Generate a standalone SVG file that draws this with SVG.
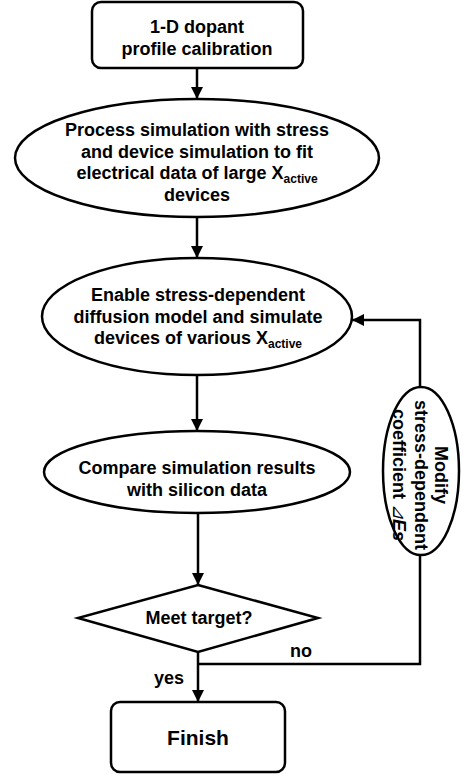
<svg xmlns="http://www.w3.org/2000/svg" width="472" height="777" viewBox="0 0 472 777">
<style>
.shape{fill:#fff;stroke:#000;stroke-width:2.5}
.t{font-family:"Liberation Sans",Arial,sans-serif;font-weight:bold;font-size:18px;fill:#000;text-anchor:middle}
.sub{font-size:12px}
.line{fill:none;stroke:#000;stroke-width:2.5}
.lbl{font-family:"Liberation Sans",Arial,sans-serif;font-weight:bold;font-size:18px;fill:#000}
</style>
<defs>
<marker id="arr" viewBox="0 0 12 12" refX="12" refY="6" markerWidth="12" markerHeight="12" markerUnits="userSpaceOnUse" orient="auto">
<path d="M0,0 L12,6 L0,12 Z" fill="#000"/>
</marker>
</defs>
<rect width="472" height="777" fill="#fff"/>
<g id="connectors">
<line class="line" x1="197" y1="68" x2="197" y2="99" marker-end="url(#arr)"/>
<line class="line" x1="197" y1="217" x2="197" y2="258" marker-end="url(#arr)"/>
<line class="line" x1="197" y1="375" x2="197" y2="431" marker-end="url(#arr)"/>
<line class="line" x1="198" y1="513" x2="198" y2="585" marker-end="url(#arr)"/>
<line class="line" x1="198" y1="652" x2="198" y2="702" marker-end="url(#arr)"/>
<polyline class="line" points="420,555 420,664 198,664"/>
<polyline class="line" points="420,387 420,320 352,320" marker-end="url(#arr)"/>
<text class="lbl" x="290" y="657">no</text>
<text class="lbl" x="154" y="684">yes</text>
</g>
<g id="calib">
<rect class="shape" x="92" y="2" width="211" height="66" rx="9"/>
<text class="t" x="197" y="33">1-D dopant</text>
<text class="t" x="197" y="54.5">profile calibration</text>
</g>
<g id="process">
<ellipse class="shape" cx="197" cy="158" rx="182" ry="59"/>
<text class="t" x="197" y="136">Process simulation with stress</text>
<text class="t" x="197" y="157.5">and device simulation to fit</text>
<text class="t" x="197" y="179">electrical data of large X<tspan class="sub" dy="4">active</tspan></text>
<text class="t" x="197" y="200.5">devices</text>
</g>
<g id="enable">
<ellipse class="shape" cx="197" cy="316.5" rx="155" ry="58.5"/>
<text class="t" x="198" y="301">Enable stress-dependent</text>
<text class="t" x="198" y="322.5">diffusion model and simulate</text>
<text class="t" x="198" y="344">devices of various X<tspan class="sub" dy="4">active</tspan></text>
</g>
<g id="compare">
<ellipse class="shape" cx="197" cy="472" rx="153" ry="41"/>
<text class="t" x="197" y="474">Compare simulation results</text>
<text class="t" x="197" y="495.5">with silicon data</text>
</g>
<g id="meet">
<polygon class="shape" points="198,585 318,618 198,652 78,618"/>
<text class="t" x="199" y="624">Meet target?</text>
</g>
<g id="modify">
<ellipse class="shape" cx="421" cy="471" rx="38" ry="84"/>
<g transform="translate(420,475) rotate(90)">
<text class="t" x="0" y="-15">Modify</text>
<text class="t" x="0" y="5.5">stress-dependent</text>
<text class="t" x="0" y="27">coefficient <tspan font-style="italic" font-weight="normal">⊿</tspan><tspan font-style="italic">Es</tspan></text>
</g>
</g>
<g id="finish">
<rect class="shape" x="111" y="702" width="174" height="70" rx="9"/>
<text class="t" x="198" y="745" style="font-size:21px">Finish</text>
</g>
</svg>
